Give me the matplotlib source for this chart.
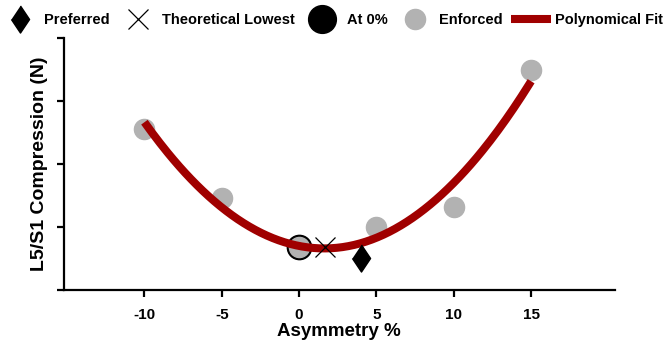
import numpy as np
import matplotlib.pyplot as plt
from matplotlib.lines import Line2D

plt.rcParams['font.family'] = ['Liberation Sans', 'DejaVu Sans']
plt.rcParams['font.weight'] = 'bold'

# enforced asymmetry trials
enforced_x = [-10, -5, 0, 5, 10, 15]
enforced_y = [2.56, 1.46, 0.68, 1.00, 1.32, 3.49]

at0_x = [0]
at0_y = [0.68]

lowest_x = [1.7]
lowest_y = [0.68]

preferred_x = [4.0]
preferred_y = [0.51]

xticks = [-10, -5, 0, 5, 10, 15]

red = '#a00000'
grey = '#b2b2b2'
diamond = [(0, 1), (0.67, 0), (0, -1), (-0.67, 0)]

coef = np.polyfit(enforced_x, enforced_y, 2)
fit_x = np.linspace(min(enforced_x), max(enforced_x), 200)
fit_y = np.polyval(coef, fit_x)

fig = plt.figure(figsize=(6.69, 3.44), dpi=100)
ax = fig.add_axes([0.0957, 0.157, 0.823, 0.733])

ax.plot(at0_x, at0_y, 'o', color='black', ms=17.5, zorder=2)
ax.plot(enforced_x, enforced_y, 'o', color=grey, ms=14.5, zorder=3)
ax.plot(fit_x, fit_y, color=red, lw=5.8, zorder=4, solid_capstyle='butt')
ax.plot(lowest_x, lowest_y, 'x', color='black', ms=14, mew=0.9, zorder=5)
ax.plot(preferred_x, preferred_y, marker=diamond, ls='none', color='black', ms=19.5, zorder=5)

ax.set_xlim(-15.2, 20.4)
ax.set_ylim(0, 4)
ax.set_xticks(xticks)
ax.set_xticklabels([str(t) for t in xticks], fontsize=11, fontweight='bold')
ax.set_yticks([0, 1, 2, 3, 4])
ax.spines['top'].set_visible(False)
ax.spines['right'].set_visible(False)
for s in ['left', 'bottom']:
    ax.spines[s].set_linewidth(1.6)
ax.tick_params(width=1.6, length=5)
ax.tick_params(axis='x', pad=8)
ax.tick_params(axis='y', labelleft=False)
ax.set_xlabel('Asymmetry %', fontsize=13.5, fontweight='bold', labelpad=1)
ax.set_ylabel('L5/S1 Compression (N)', fontsize=14, fontweight='bold', labelpad=6.5)

handles = [
    Line2D([], [], marker=diamond, ls='none', color='black', ms=19.5),
    Line2D([], [], marker='x', ls='none', color='black', ms=14, mew=0.9),
    Line2D([], [], marker='o', ls='none', color='black', ms=20),
    Line2D([], [], marker='o', ls='none', color=grey, ms=14.5),
    Line2D([], [], color=red, lw=5.8, solid_capstyle='butt'),
]
labels = ['Preferred', 'Theoretical Lowest', 'At 0%', 'Enforced', 'Polynomical Fit']
fig.legend(handles, labels, loc='center left', bbox_to_anchor=(0.0, 0.942), ncol=5,
           frameon=False, fontsize=10.5, handlelength=2.72, handletextpad=0.3,
           columnspacing=0.55, borderaxespad=0, borderpad=0)

fig.savefig('out.png', dpi=100)
